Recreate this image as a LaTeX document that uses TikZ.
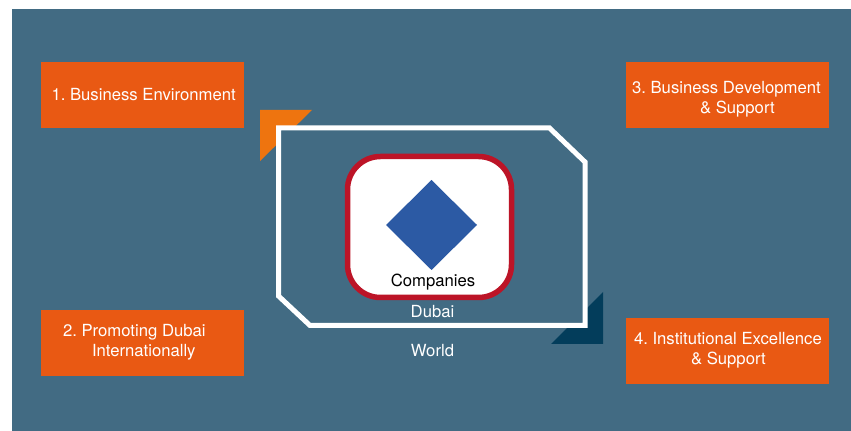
\documentclass[tikz,border=0pt]{standalone}
\usepackage{fontspec}
\setmainfont{TeX Gyre Heros}
\usetikzlibrary{shapes.geometric}
\definecolor{slateback}{HTML}{426B83}
\definecolor{boxorange}{HTML}{E95913}
\definecolor{cornerorange}{HTML}{EE740F}
\definecolor{cornernavy}{HTML}{033D5B}
\definecolor{ringred}{HTML}{BC1427}
\definecolor{diamondblue}{HTML}{2C5AA4}
\tikzset{
	orangebox/.style={fill=boxorange, text=white, minimum height=1.32cm, text width=4.06cm, inner sep=0pt, align=flush left, font=\fontsize{9.5pt}{11.4pt}\selectfont\frenchspacing},
	whitelabel/.style={text=white, inner sep=0pt, font=\fontsize{9.5pt}{11.4pt}\selectfont},
}
\begin{document}
\begin{tikzpicture}[x=0.02cm, y=-0.02cm]
			%%%%% START %%%%%
			
			\useasboundingbox (0, 0) rectangle (851, 431);
			\fill[slateback] (12, 9) rectangle (851, 431);
			
			\fill[cornerorange] (260, 110) -- (312, 110) -- (260, 161) -- cycle;
			\fill[cornernavy] (603, 292) -- (603, 344) -- (551, 344) -- cycle;
			
			\draw[line width=0.1cm, color=white, fill=slateback] (278.5, 128) -- (549.5, 128) -- (585, 162) -- (585, 325.5) -- (310, 325.5) -- (278.5, 296) -- cycle;
			
			\draw[line width=0.11cm, color=ringred, fill=white, rounded corners=0.66cm] (347.5, 156.5) rectangle (511.5, 297.5);
			\fill[diamondblue] (431.5, 180) -- (477, 225) -- (431.5, 270) -- (386, 225) -- cycle;
			
			\node[whitelabel, text=black] (companies) at (433, 282) {Companies};
			\node[whitelabel] (dubai) at (432.5, 312) {Dubai};
			\node[whitelabel] (world) at (432.5, 351) {World};
			
			\node[orangebox] (environment) at (142.5, 95) {\hspace*{0.21cm}1. Business Environment};
			\node[orangebox] (promoting) at (142.5, 343) {\hspace*{0.44cm}2. Promoting Dubai\\\hspace*{1.02cm}Internationally\par\vspace*{0.02cm}};
			\node[orangebox] (development) at (727.5, 95) {\par\vspace*{0.02cm}\hspace*{0.12cm}3. Business Development\\\hspace*{1.48cm}\& Support};
			\node[orangebox] (institutional) at (727.5, 351) {\hspace*{0.16cm}4. Institutional Excellence\\\hspace*{1.3cm}\& Support\par\vspace*{0.04cm}};
			
			%%%%% END %%%%%
		\end{tikzpicture}
\end{document}
